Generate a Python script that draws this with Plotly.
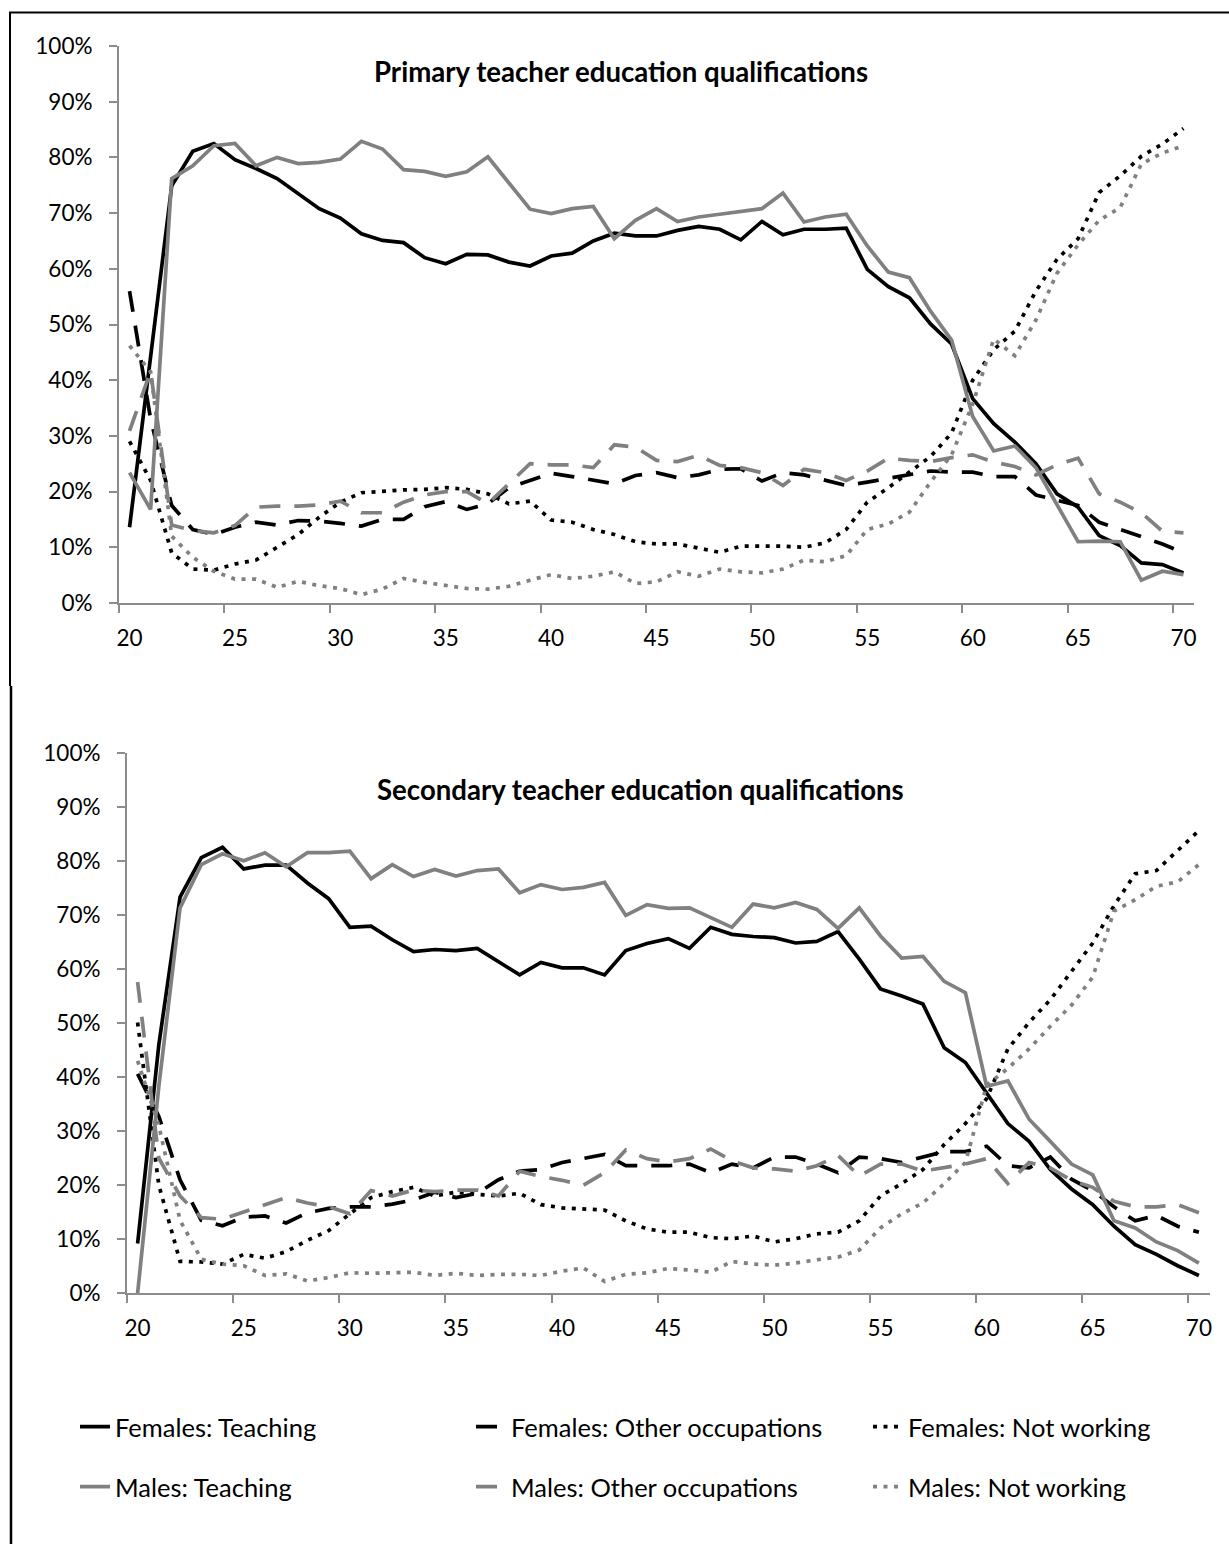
import plotly.graph_objects as go

ages = list(range(20, 71))

# ---- Primary teacher education qualifications (values in %) ----
p_f_teach = [13.6, 44.0, 74.9, 81.1, 82.5, 79.6, 78.0, 76.2, 73.6, 70.8,
             69.1, 66.3, 65.1, 64.7, 62.0, 60.9, 62.6, 62.5, 61.2, 60.5,
             62.3, 62.8, 65.0, 66.4, 65.9, 65.9, 66.9, 67.6, 67.1, 65.2,
             68.5, 66.1, 67.1, 67.1, 67.3, 59.9, 56.8, 54.8, 50.1, 46.5,
             36.7, 32.2, 28.9, 25.0, 19.6, 17.2, 12.1, 10.3, 7.2, 6.9, 5.4]
p_f_other = [56.0, 33.0, 17.5, 13.2, 12.3, 13.6, 14.5, 14.0, 14.8, 14.7,
             14.3, 13.8, 15.0, 15.0, 17.3, 18.2, 16.8, 17.8, 20.7, 22.0,
             23.3, 22.7, 22.0, 21.4, 22.9, 23.4, 22.5, 23.0, 24.0, 24.1,
             21.9, 23.4, 23.0, 22.0, 21.1, 21.7, 22.4, 23.0, 23.7, 23.5,
             23.5, 22.7, 22.7, 19.4, 18.5, 17.5, 14.5, 13.2, 11.9, 10.6, 9.0]
p_f_notw = [29.0, 22.0, 9.0, 6.1, 5.9, 7.0, 7.7, 10.0, 12.3, 15.4,
            18.1, 19.8, 20.1, 20.3, 20.4, 20.7, 20.4, 19.6, 17.8, 18.3,
            14.9, 14.5, 13.2, 12.3, 11.0, 10.6, 10.6, 9.8, 9.1, 10.2,
            10.2, 10.2, 10.0, 10.8, 13.2, 18.1, 20.7, 23.4, 26.3, 30.5,
            40.0, 45.5, 48.8, 56.0, 61.7, 65.4, 73.7, 76.7, 80.2, 82.4, 85.2]
p_m_teach = [23.4, 16.8, 76.2, 78.5, 82.1, 82.5, 78.5, 80.0, 78.9, 79.1,
             79.7, 82.9, 81.5, 77.8, 77.5, 76.6, 77.4, 80.1, 75.4, 70.7,
             69.9, 70.8, 71.2, 65.4, 68.7, 70.8, 68.5, 69.3, 69.8, 70.3,
             70.8, 73.6, 68.4, 69.3, 69.8, 64.1, 59.4, 58.4, 52.4, 47.2,
             33.5, 27.3, 28.2, 24.3, 17.8, 11.0, 11.1, 11.0, 4.1, 5.7, 5.1]
p_m_other = [30.9, 41.6, 14.0, 13.0, 12.6, 13.9, 17.2, 17.4, 17.4, 17.6,
             18.3, 16.2, 16.2, 18.1, 19.4, 20.0, 20.0, 17.8, 21.4, 25.0,
             24.8, 24.8, 24.3, 28.4, 28.0, 25.6, 25.4, 26.5, 24.7, 24.3,
             23.4, 21.1, 24.0, 23.4, 22.0, 23.7, 26.0, 25.6, 25.4, 26.1,
             26.6, 25.3, 24.5, 23.0, 24.8, 26.0, 19.6, 18.1, 16.2, 12.9, 12.6]
p_m_notw = [46.2, 41.5, 12.0, 8.2, 5.7, 4.3, 4.3, 2.8, 3.9, 3.1,
            2.6, 1.5, 2.5, 4.4, 3.7, 3.1, 2.6, 2.5, 3.0, 4.1,
            5.1, 4.4, 4.8, 5.6, 3.5, 3.8, 5.6, 4.8, 6.1, 5.6,
            5.4, 6.1, 7.7, 7.4, 8.5, 13.2, 14.2, 16.3, 21.7, 26.6,
            35.7, 47.4, 44.4, 50.8, 59.2, 64.3, 68.7, 71.0, 78.8, 80.8, 82.1]

# ---- Secondary teacher education qualifications (values in %) ----
s_f_teach = [9.2, 46.0, 73.3, 80.6, 82.5, 78.5, 79.2, 79.2, 75.9, 73.0,
             67.7, 67.9, 65.4, 63.2, 63.6, 63.4, 63.8, 61.4, 58.9, 61.2,
             60.2, 60.2, 58.9, 63.4, 64.7, 65.6, 63.8, 67.7, 66.4, 66.0,
             65.8, 64.8, 65.1, 66.9, 61.8, 56.3, 55.0, 53.5, 45.4, 42.7,
             37.0, 31.4, 28.1, 22.9, 19.3, 16.4, 12.4, 9.0, 7.2, 5.1, 3.3]
s_f_other = [40.6, 32.7, 21.0, 13.5, 12.5, 14.1, 14.3, 13.0, 14.9, 15.7,
             16.0, 16.0, 16.5, 17.3, 18.7, 17.7, 18.5, 21.0, 22.6, 22.9,
             24.2, 25.0, 25.7, 23.6, 23.6, 23.6, 23.9, 22.3, 23.9, 23.2,
             25.2, 25.2, 23.9, 22.3, 25.2, 24.9, 24.2, 25.2, 26.2, 26.2,
             27.2, 23.6, 23.2, 25.2, 21.1, 19.0, 16.0, 13.4, 14.4, 12.4, 11.3]
s_f_notw = [50.1, 20.0, 5.9, 5.8, 5.4, 7.2, 6.5, 7.7, 9.8, 11.6,
            14.7, 17.7, 18.8, 19.6, 18.0, 18.7, 18.3, 18.0, 18.5, 16.4,
            15.8, 15.6, 15.4, 13.4, 11.9, 11.3, 11.3, 10.3, 10.1, 10.6,
            9.5, 10.1, 11.0, 11.3, 13.4, 18.0, 20.3, 22.9, 27.5, 31.4,
            36.0, 45.2, 50.1, 54.3, 59.6, 64.8, 71.7, 77.6, 78.2, 81.8, 85.6]
s_m_teach = [0.0, 38.3, 71.3, 79.3, 81.3, 80.0, 81.5, 78.9, 81.5, 81.5,
             81.8, 76.7, 79.3, 77.1, 78.4, 77.2, 78.2, 78.5, 74.1, 75.6,
             74.7, 75.1, 76.0, 69.9, 71.9, 71.2, 71.3, 69.5, 67.7, 72.0,
             71.3, 72.3, 71.0, 67.5, 71.3, 66.1, 62.0, 62.3, 57.7, 55.6,
             38.3, 39.3, 32.2, 28.1, 23.9, 21.9, 13.4, 12.1, 9.5, 7.9, 5.6]
s_m_other = [57.6, 25.0, 18.0, 14.0, 13.7, 15.1, 16.4, 17.7, 16.7, 16.0,
             14.7, 19.0, 18.0, 19.1, 18.8, 19.1, 19.1, 18.0, 22.6, 21.6,
             20.9, 20.0, 22.3, 26.5, 24.9, 24.3, 24.9, 26.7, 24.5, 23.2,
             23.0, 22.6, 23.6, 25.5, 21.7, 23.9, 23.9, 22.6, 23.2, 23.9,
             24.9, 20.3, 24.2, 23.2, 20.9, 19.6, 17.0, 16.0, 16.0, 16.4, 14.9]
s_m_notw = [43.0, 31.0, 13.5, 6.3, 5.4, 5.1, 3.3, 3.6, 2.3, 2.9,
            3.8, 3.7, 3.8, 3.9, 3.3, 3.7, 3.3, 3.5, 3.5, 3.3,
            4.1, 4.7, 2.2, 3.5, 3.8, 4.6, 4.3, 3.9, 5.9, 5.4,
            5.2, 5.6, 6.2, 6.7, 8.0, 12.1, 14.7, 16.7, 20.3, 24.2,
            38.5, 41.6, 45.2, 49.4, 53.3, 58.5, 70.7, 72.8, 75.3, 76.1, 79.3]

series_names = ["Females: Teaching", "Females: Other occupations", "Females: Not working",
                "Males: Teaching", "Males: Other occupations", "Males: Not working"]
titles = ["Primary teacher education qualifications", "Secondary teacher education qualifications"]
x_tick_vals = list(range(20, 71, 5))
x_tick_labels = [str(a) for a in x_tick_vals]
y_tick_vals = list(range(0, 101, 10))
y_tick_labels = [f"{v}%" for v in y_tick_vals]

W, H = 1229, 1544
FONT = "Lato"
BLACK = "#000000"
GREY = "#808080"
AXIS = "#8c8c8c"
TICK_SIZE = 22.5
LEG_SIZE = 25.5
TITLE_SIZE = 27.6
LINE_W = 3.7

styles = [
    dict(color=BLACK, dash="solid"),
    dict(color=BLACK, dash="21px,14px"),
    dict(color=BLACK, dash="4px,6.5px"),
    dict(color=GREY, dash="solid"),
    dict(color=GREY, dash="21px,14px"),
    dict(color=GREY, dash="4px,6.5px"),
]
legend_ids = ["legend", "legend2", "legend3", "legend4", "legend5", "legend6"]
# legend text start (px) and row centre (px)
legend_text_x = [115, 511, 908, 115, 511, 908]
legend_row_y = [1427, 1427, 1427, 1487, 1487, 1487]

fig = go.Figure()

panels = [
    ([p_f_teach, p_f_other, p_f_notw, p_m_teach, p_m_other, p_m_notw], "x", "y", True),
    ([s_f_teach, s_f_other, s_f_notw, s_m_teach, s_m_other, s_m_notw], "x2", "y2", False),
]
for data, xa, ya, show in panels:
    for i, (vals, st) in enumerate(zip(data, styles)):
        fig.add_trace(go.Scatter(
            x=ages, y=vals, mode="lines", name=series_names[i],
            line=dict(color=st["color"], dash=st["dash"], width=LINE_W),
            xaxis=xa, yaxis=ya, showlegend=show,
            legend=legend_ids[i],
            hoverinfo="skip",
        ))


def px_x(p):
    return p / W


def px_y(p):
    return 1 - p / H


def xaxis_def(domain, anchor):
    return dict(
        domain=domain, range=[19.5, 70.5], anchor=anchor,
        tickmode="array", tickvals=x_tick_vals, ticktext=x_tick_labels,
        ticks="", showgrid=False, zeroline=False,
        showline=True, linecolor=AXIS, linewidth=2,
        tickfont=dict(family=FONT, size=TICK_SIZE, color=BLACK),
        ticklabelstandoff=14, automargin=False,
        minor=dict(tickmode="array", tickvals=[v - 0.5 for v in x_tick_vals],
                   ticks="outside", ticklen=8, tickcolor=AXIS, tickwidth=2, showgrid=False),
        fixedrange=True,
    )


def yaxis_def(domain, anchor):
    return dict(
        domain=domain, range=[0, 100], anchor=anchor,
        tickmode="array", tickvals=y_tick_vals, ticktext=y_tick_labels,
        ticks="outside", ticklen=8, tickcolor=AXIS, tickwidth=2,
        showgrid=False, zeroline=False,
        showline=True, linecolor=AXIS, linewidth=2,
        tickfont=dict(family=FONT, size=TICK_SIZE, color=BLACK),
        ticklabelstandoff=12, automargin=False,
        fixedrange=True,
    )


legends = {}
for lid, tx, ry in zip(legend_ids, legend_text_x, legend_row_y):
    legends[lid] = dict(orientation="h", x=px_x(tx - 40), y=px_y(ry),
                        xanchor="left", yanchor="middle",
                        font=dict(family=FONT, size=LEG_SIZE, color=BLACK),
                        bgcolor="rgba(0,0,0,0)", borderwidth=0)

fig.update_layout(
    template="none",
    width=W, height=H,
    margin=dict(l=0, r=0, t=0, b=0, pad=0, autoexpand=False),
    paper_bgcolor="white", plot_bgcolor="white",
    font=dict(family=FONT, size=TICK_SIZE, color=BLACK),
    xaxis=xaxis_def([px_x(119), px_x(1194)], "y"),
    yaxis=yaxis_def([px_y(603), px_y(46)], "x"),
    xaxis2=xaxis_def([px_x(127), px_x(1209.5)], "y2"),
    yaxis2=yaxis_def([px_y(1293.3), px_y(752.7)], "x2"),
    annotations=[
        dict(text="<b>" + titles[0] + "</b>", x=px_x(621), y=px_y(72), xref="paper", yref="paper",
             xanchor="center", yanchor="middle", showarrow=False,
             font=dict(family=FONT, size=TITLE_SIZE, color=BLACK)),
        dict(text="<b>" + titles[1] + "</b>", x=px_x(641), y=px_y(789), xref="paper", yref="paper",
             xanchor="center", yanchor="middle", showarrow=False,
             font=dict(family=FONT, size=TITLE_SIZE, color=BLACK)),
    ],
    shapes=[
        dict(type="line", xref="paper", yref="paper", x0=px_x(9), x1=1.0, y0=px_y(12.5), y1=px_y(12.5),
             line=dict(color=BLACK, width=2)),
        dict(type="line", xref="paper", yref="paper", x0=px_x(10), x1=px_x(10), y0=px_y(12), y1=px_y(686),
             line=dict(color=BLACK, width=2)),
        dict(type="line", xref="paper", yref="paper", x0=px_x(11), x1=px_x(11), y0=px_y(686), y1=0,
             line=dict(color=BLACK, width=2.5)),
    ],
    **legends,
)

# remove the browser's default 8px page margin so the figure sits at the window origin
fig.write_html("out.html", config={"displayModeBar": False},
               post_script="document.body.style.margin='0';document.body.style.overflow='hidden';")
